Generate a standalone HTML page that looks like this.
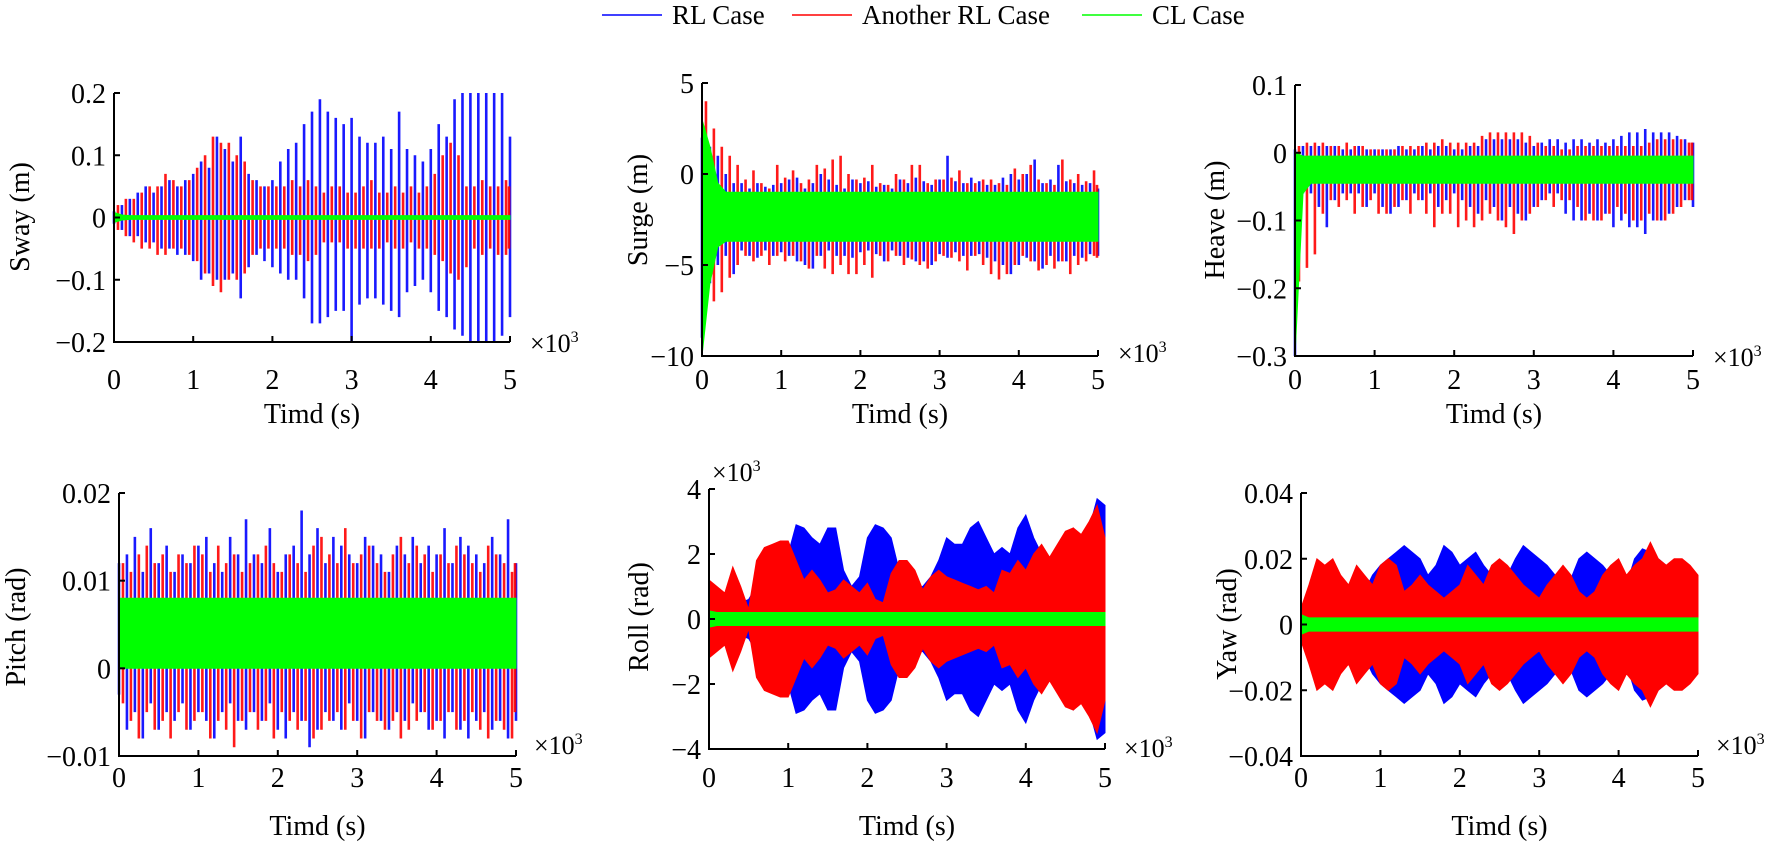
<!DOCTYPE html>
<html><head><meta charset="utf-8"><style>
html,body{margin:0;padding:0;background:#fff;}
svg, svg text{font-family:"Liberation Serif","Times New Roman",serif;}
svg{display:block;}
</style></head><body>
<svg id="fig" width="1772" height="845" viewBox="0 0 1772 845" xmlns="http://www.w3.org/2000/svg" font-family="Liberation Serif, serif">
<g>
 <line x1="602" y1="15" x2="662" y2="15" stroke="#0000ff" stroke-width="1.5"/>
 <text x="672" y="24" font-size="27" font-family="Liberation Serif, serif">RL Case</text>
 <line x1="792" y1="15" x2="852" y2="15" stroke="#ff0000" stroke-width="1.5"/>
 <text x="862" y="24" font-size="27" font-family="Liberation Serif, serif">Another RL Case</text>
 <line x1="1082" y1="15" x2="1142" y2="15" stroke="#00ff00" stroke-width="1.5"/>
 <text x="1152" y="24" font-size="27" font-family="Liberation Serif, serif">CL Case</text>
</g>
</svg>
<script>
const TIMES=[0,100,200,300,400,500,600,700,800,900,1000,1100,1200,1300,1400,1500,1600,1700,1800,1900,2000,2100,2200,2300,2400,2500,2600,2700,2800,2900,3000,3100,3200,3300,3400,3500,3600,3700,3800,3900,4000,4100,4200,4300,4400,4500,4600,4700,4800,4900,5000];
const X_TICKS=[0,1,2,3,4,5];

const swayBlueUp=[0.01,0.02,0.03,0.04,0.05,0.04,0.05,0.06,0.05,0.06,0.07,0.09,0.08,0.13,0.11,0.09,0.13,0.07,0.06,0.05,0.06,0.09,0.11,0.12,0.15,0.17,0.19,0.17,0.16,0.15,0.16,0.13,0.12,0.12,0.13,0.11,0.17,0.11,0.1,0.09,0.11,0.15,0.13,0.19,0.2,0.2,0.2,0.2,0.2,0.2,0.13];
const swayBlueLo=[-0.01,-0.02,-0.03,-0.03,-0.04,-0.04,-0.05,-0.05,-0.06,-0.06,-0.07,-0.1,-0.09,-0.1,-0.1,-0.09,-0.13,-0.08,-0.06,-0.07,-0.08,-0.09,-0.1,-0.1,-0.13,-0.17,-0.17,-0.16,-0.15,-0.15,-0.2,-0.14,-0.13,-0.13,-0.14,-0.15,-0.16,-0.12,-0.11,-0.1,-0.12,-0.15,-0.16,-0.18,-0.19,-0.2,-0.2,-0.2,-0.2,-0.19,-0.16];
const swayRedUp=[0.02,0.03,0.03,0.04,0.05,0.05,0.07,0.06,0.05,0.06,0.08,0.1,0.13,0.12,0.12,0.1,0.09,0.06,0.05,0.05,0.05,0.05,0.06,0.05,0.06,0.05,0.04,0.05,0.05,0.04,0.04,0.05,0.06,0.04,0.04,0.05,0.04,0.05,0.04,0.05,0.07,0.1,0.12,0.1,0.05,0.05,0.06,0.05,0.05,0.06,0.05];
const swayRedLo=[-0.02,-0.03,-0.04,-0.05,-0.05,-0.06,-0.06,-0.05,-0.05,-0.06,-0.07,-0.09,-0.11,-0.12,-0.1,-0.1,-0.09,-0.06,-0.05,-0.05,-0.05,-0.05,-0.06,-0.06,-0.07,-0.06,-0.04,-0.04,-0.04,-0.05,-0.05,-0.05,-0.05,-0.05,-0.04,-0.05,-0.05,-0.04,-0.05,-0.05,-0.06,-0.07,-0.09,-0.1,-0.08,-0.05,-0.06,-0.05,-0.06,-0.06,-0.05];
const swayGreenUp=[0.008,0.004,0.003,0.003,0.003,0.003,0.003,0.003,0.003,0.003,0.003,0.003,0.003,0.003,0.003,0.003,0.003,0.003,0.003,0.003,0.003,0.003,0.003,0.003,0.003,0.003,0.003,0.003,0.003,0.003,0.003,0.003,0.003,0.003,0.003,0.003,0.003,0.003,0.003,0.003,0.003,0.003,0.003,0.003,0.003,0.003,0.003,0.003,0.003,0.003,0.003];
const swayGreenLo=[-0.008,-0.004,-0.003,-0.003,-0.003,-0.003,-0.003,-0.003,-0.003,-0.003,-0.003,-0.003,-0.003,-0.003,-0.003,-0.003,-0.003,-0.003,-0.003,-0.003,-0.003,-0.003,-0.003,-0.003,-0.003,-0.003,-0.003,-0.003,-0.003,-0.003,-0.003,-0.003,-0.003,-0.003,-0.003,-0.003,-0.003,-0.003,-0.003,-0.003,-0.003,-0.003,-0.003,-0.003,-0.003,-0.003,-0.003,-0.003,-0.003,-0.003,-0.003];

const surgeBlueUp=[2,1.5,1,0,-0.5,-0.5,-0.8,-0.5,-0.7,-0.6,-0.5,-0.3,-0.2,-0.8,-0.5,0,-0.3,-0.6,-0.8,-0.3,-0.5,-0.4,-0.7,-0.6,-0.8,-0.3,-0.5,-0.2,-0.4,-0.6,-0.3,1,-0.4,-0.5,-0.2,-0.4,-0.6,-0.6,-0.2,0,-0.3,0,0.8,-0.5,-0.3,0.5,-0.4,-0.5,-0.6,-0.5,-0.8];
const surgeBlueLo=[-9,-6,-5,-4.5,-5.5,-4.2,-4.5,-4.6,-4.2,-4.5,-4.3,-4.5,-4.8,-5,-5.2,-4.5,-4.2,-4.5,-4.5,-4.6,-4.3,-4.2,-4.4,-4.8,-4.2,-4.5,-4.6,-4.8,-4.8,-5,-4.4,-4.6,-4.3,-4.5,-4.5,-4.4,-4.6,-4.8,-5,-5.5,-5,-4.6,-4.8,-5.2,-4.5,-4.8,-4.8,-4.5,-4.6,-4.4,-4.5];
const surgeRedUp=[4,2.5,1.5,1,0.5,-0.3,0.2,-0.5,-0.8,0.5,-0.2,0.2,-0.5,-0.3,0.5,0.3,0.8,1,0,-0.3,-0.2,0.5,-0.5,-0.6,0,-0.3,0.5,0.5,-0.5,-0.3,-0.3,-0.2,0.2,-0.5,-0.5,-0.3,-0.3,-0.5,-0.6,0.3,0,0.5,-0.3,-0.5,-0.6,0.8,-0.3,0,-0.4,0.2,-0.6];
const surgeRedLo=[-7.5,-7,-6.5,-5.7,-5,-4.5,-4.8,-4.5,-5,-4.5,-4.8,-4.5,-4.8,-5.2,-4.5,-5.2,-5.5,-5,-5.5,-5.5,-5,-5.7,-4.5,-4.8,-4.5,-5,-4.7,-5,-5.2,-4.8,-4.5,-4.6,-4.8,-5.3,-4.5,-5,-5.5,-5.8,-5.5,-5,-4.5,-4.8,-5.3,-5,-5.2,-4.8,-5.5,-5,-4.8,-4.5,-4.6];
const surgeGreenUp=[3,1.5,-0.5,-1,-1,-1,-1,-1,-1,-1,-1,-1,-1,-1,-1,-1,-1,-1,-1,-1,-1,-1,-1,-1,-1,-1,-1,-1,-1,-1,-1,-1,-1,-1,-1,-1,-1,-1,-1,-1,-1,-1,-1,-1,-1,-1,-1,-1,-1,-1,-1];
const surgeGreenLo=[-10,-6,-4,-3.7,-3.7,-3.7,-3.7,-3.7,-3.7,-3.7,-3.7,-3.7,-3.7,-3.7,-3.7,-3.7,-3.7,-3.7,-3.7,-3.7,-3.7,-3.7,-3.7,-3.7,-3.7,-3.7,-3.7,-3.7,-3.7,-3.7,-3.7,-3.7,-3.7,-3.7,-3.7,-3.7,-3.7,-3.7,-3.7,-3.7,-3.7,-3.7,-3.7,-3.7,-3.7,-3.7,-3.7,-3.7,-3.7,-3.7,-3.7];

const heaveBlueUp=[0.005,0.01,0.01,0.01,0.01,0.01,0.005,0.005,0.01,0.005,0.005,0.005,0.005,0.01,0.005,0.005,0.01,0.005,0.01,0.01,0.005,0.005,0.01,0.01,0.02,0.02,0.02,0.02,0.02,0.015,0.01,0.015,0.02,0.02,0.015,0.02,0.02,0.015,0.02,0.015,0.02,0.025,0.03,0.03,0.035,0.03,0.03,0.03,0.025,0.02,0.015];
const heaveBlueLo=[-0.3,-0.06,-0.06,-0.08,-0.11,-0.07,-0.06,-0.06,-0.06,-0.08,-0.06,-0.08,-0.09,-0.08,-0.07,-0.06,-0.07,-0.06,-0.08,-0.07,-0.06,-0.07,-0.08,-0.09,-0.07,-0.08,-0.1,-0.08,-0.09,-0.1,-0.08,-0.07,-0.06,-0.06,-0.09,-0.1,-0.1,-0.09,-0.1,-0.09,-0.11,-0.1,-0.11,-0.11,-0.12,-0.1,-0.1,-0.09,-0.08,-0.07,-0.08];
const heaveRedUp=[0.01,0.015,0.015,0.015,0.01,0.01,0.015,0.01,0.01,0.005,0.005,0.005,0.005,0.01,0.01,0.01,0.015,0.015,0.02,0.015,0.015,0.015,0.015,0.025,0.03,0.03,0.03,0.03,0.03,0.025,0.015,0.01,0.01,0.005,0.005,0.01,0.01,0.01,0.01,0.01,0.01,0.01,0.01,0.01,0.015,0.02,0.02,0.02,0.02,0.015,0.015];
const heaveRedLo=[-0.19,-0.17,-0.15,-0.09,-0.07,-0.08,-0.07,-0.09,-0.08,-0.07,-0.09,-0.09,-0.08,-0.07,-0.09,-0.07,-0.09,-0.11,-0.09,-0.09,-0.11,-0.1,-0.11,-0.1,-0.09,-0.1,-0.11,-0.12,-0.1,-0.09,-0.08,-0.07,-0.08,-0.07,-0.07,-0.08,-0.1,-0.1,-0.1,-0.09,-0.08,-0.09,-0.1,-0.1,-0.09,-0.1,-0.1,-0.09,-0.08,-0.07,-0.07];
const heaveGreenUp=[0,-0.005,-0.005,-0.005,-0.005,-0.005,-0.005,-0.005,-0.005,-0.005,-0.005,-0.005,-0.005,-0.005,-0.005,-0.005,-0.005,-0.005,-0.005,-0.005,-0.005,-0.005,-0.005,-0.005,-0.005,-0.005,-0.005,-0.005,-0.005,-0.005,-0.005,-0.005,-0.005,-0.005,-0.005,-0.005,-0.005,-0.005,-0.005,-0.005,-0.005,-0.005,-0.005,-0.005,-0.005,-0.005,-0.005,-0.005,-0.005,-0.005,-0.005];
const heaveGreenLo=[-0.3,-0.06,-0.045,-0.045,-0.045,-0.045,-0.045,-0.045,-0.045,-0.045,-0.045,-0.045,-0.045,-0.045,-0.045,-0.045,-0.045,-0.045,-0.045,-0.045,-0.045,-0.045,-0.045,-0.045,-0.045,-0.045,-0.045,-0.045,-0.045,-0.045,-0.045,-0.045,-0.045,-0.045,-0.045,-0.045,-0.045,-0.045,-0.045,-0.045,-0.045,-0.045,-0.045,-0.045,-0.045,-0.045,-0.045,-0.045,-0.045,-0.045,-0.045];

const pitchBlueUp=[0.012,0.013,0.015,0.011,0.016,0.012,0.014,0.011,0.013,0.012,0.014,0.015,0.012,0.011,0.015,0.013,0.017,0.013,0.012,0.016,0.011,0.013,0.014,0.018,0.013,0.016,0.012,0.015,0.014,0.013,0.012,0.015,0.014,0.013,0.011,0.014,0.013,0.015,0.012,0.014,0.013,0.016,0.012,0.015,0.014,0.013,0.012,0.015,0.013,0.017,0.012];
const pitchBlueLo=[-0.003,-0.007,-0.005,-0.008,-0.004,-0.007,-0.005,-0.006,-0.004,-0.007,-0.005,-0.006,-0.008,-0.005,-0.004,-0.006,-0.007,-0.005,-0.006,-0.004,-0.007,-0.008,-0.005,-0.006,-0.009,-0.007,-0.005,-0.006,-0.007,-0.004,-0.006,-0.008,-0.005,-0.006,-0.007,-0.005,-0.006,-0.004,-0.005,-0.007,-0.006,-0.008,-0.005,-0.007,-0.008,-0.006,-0.005,-0.007,-0.006,-0.008,-0.006];
const pitchRedUp=[0.012,0.011,0.013,0.014,0.012,0.013,0.011,0.013,0.012,0.014,0.013,0.011,0.014,0.012,0.013,0.011,0.012,0.013,0.014,0.012,0.011,0.013,0.012,0.011,0.014,0.015,0.013,0.012,0.016,0.012,0.013,0.014,0.012,0.011,0.013,0.015,0.012,0.014,0.013,0.011,0.013,0.012,0.014,0.013,0.012,0.011,0.014,0.013,0.012,0.011,0.012];
const pitchRedLo=[-0.004,-0.006,-0.008,-0.005,-0.007,-0.006,-0.008,-0.005,-0.007,-0.006,-0.005,-0.008,-0.006,-0.007,-0.009,-0.006,-0.005,-0.007,-0.006,-0.008,-0.005,-0.006,-0.007,-0.006,-0.008,-0.007,-0.006,-0.005,-0.007,-0.006,-0.008,-0.005,-0.006,-0.007,-0.006,-0.008,-0.007,-0.006,-0.005,-0.007,-0.006,-0.005,-0.007,-0.006,-0.005,-0.007,-0.008,-0.006,-0.007,-0.008,-0.005];
const pitchGreenUp=[0.008,0.008,0.008,0.008,0.008,0.008,0.008,0.008,0.008,0.008,0.008,0.008,0.008,0.008,0.008,0.008,0.008,0.008,0.008,0.008,0.008,0.008,0.008,0.008,0.008,0.008,0.008,0.008,0.008,0.008,0.008,0.008,0.008,0.008,0.008,0.008,0.008,0.008,0.008,0.008,0.008,0.008,0.008,0.008,0.008,0.008,0.008,0.008,0.008,0.008,0.008];
const pitchGreenLo=[0,0,0,0,0,0,0,0,0,0,0,0,0,0,0,0,0,0,0,0,0,0,0,0,0,0,0,0,0,0,0,0,0,0,0,0,0,0,0,0,0,0,0,0,0,0,0,0,0,0,0];

const rollBlueAmp=[0.5,0.8,0.7,0.6,0.5,0.6,1,1.2,1.5,1.8,2,2.9,2.8,2.5,2.3,2.8,2.8,1.5,1,1.3,2.5,2.9,2.8,2.5,1.5,1.2,1,1,1.3,1.8,2.5,2.3,2.3,2.8,3,2.5,2,2.2,2,2.8,3.2,2.5,2,1.8,2,2.5,2.8,2.5,2.8,3.7,3.5];
const rollRedAmp=[1.2,1,0.8,1.6,1,0.3,1.8,2.2,2.3,2.4,2.4,1.8,1.2,1.5,1.2,0.8,0.9,1.2,1,0.8,1.1,0.6,0.5,1.4,1.8,1.8,1.5,0.9,1.3,1.5,1.3,1.2,1.1,1,0.9,1,0.8,1.5,1.4,1.8,1.5,2,2.3,1.9,2.3,2.7,2.8,2.6,3,3.5,2.5];
const rollGreenAmp=[0.25,0.2,0.2,0.2,0.2,0.2,0.2,0.2,0.2,0.2,0.2,0.2,0.2,0.2,0.2,0.2,0.2,0.2,0.2,0.2,0.2,0.2,0.2,0.2,0.2,0.2,0.2,0.2,0.2,0.2,0.2,0.2,0.2,0.2,0.2,0.2,0.2,0.2,0.2,0.2,0.2,0.2,0.2,0.2,0.2,0.2,0.2,0.2,0.2,0.2,0.2];

const yawBlueAmp=[0.003,0.005,0.006,0.008,0.008,0.01,0.012,0.012,0.01,0.015,0.018,0.02,0.022,0.024,0.022,0.02,0.015,0.018,0.024,0.022,0.018,0.02,0.022,0.018,0.015,0.01,0.015,0.02,0.024,0.022,0.02,0.018,0.015,0.012,0.014,0.02,0.022,0.02,0.018,0.015,0.01,0.012,0.02,0.023,0.022,0.02,0.018,0.015,0.014,0.012,0.01];
const yawRedAmp=[0.005,0.012,0.02,0.018,0.02,0.015,0.012,0.018,0.015,0.012,0.018,0.02,0.018,0.01,0.012,0.015,0.012,0.01,0.008,0.01,0.012,0.018,0.015,0.012,0.018,0.02,0.018,0.015,0.012,0.01,0.008,0.012,0.015,0.018,0.015,0.01,0.008,0.01,0.015,0.018,0.02,0.015,0.018,0.02,0.025,0.02,0.018,0.02,0.02,0.018,0.015];
const yawGreenAmp=[0.003,0.002,0.002,0.002,0.002,0.002,0.002,0.002,0.002,0.002,0.002,0.002,0.002,0.002,0.002,0.002,0.002,0.002,0.002,0.002,0.002,0.002,0.002,0.002,0.002,0.002,0.002,0.002,0.002,0.002,0.002,0.002,0.002,0.002,0.002,0.002,0.002,0.002,0.002,0.002,0.002,0.002,0.002,0.002,0.002,0.002,0.002,0.002,0.002,0.002,0.002];

const swayTicks=[0.2,0.1,0,-0.1,-0.2];
const surgeTicks=[5,0,-5,-10];
const heaveTicks=[0.1,0,-0.1,-0.2,-0.3];
const pitchTicks=[0.02,0.01,0,-0.01];
const rollTicks=[4,2,0,-2,-4];
const yawTicks=[0.04,0.02,0,-0.02,-0.04];

const NS="http://www.w3.org/2000/svg";
const FONT="Liberation Serif, serif";
const svg=document.getElementById('fig');
function mk(tag,attrs,parent){const e=document.createElementNS(NS,tag);for(const k in attrs)e.setAttribute(k,attrs[k]);if(tag==='text')e.setAttribute('font-family',FONT);(parent||svg).appendChild(e);return e;}
function fmt(v){return v<0?'\u2212'+String(-v):String(v);}
const neg=a=>a.map(v=>-v);

const panels=[
 {key:'sway',title:'Sway (m)',x0:114,x1:510,yT:93,yB:342,ymin:-0.2,ymax:0.2,ticks:swayTicks,lab:[19,217],xl:379,xt:413,mode:'spike',blue:[swayBlueUp,swayBlueLo],red:[swayRedUp,swayRedLo],green:[swayGreenUp,swayGreenLo],exp:[[530,352]]},
 {key:'surge',title:'Surge (m)',x0:702,x1:1098,yT:83,yB:356,ymin:-10,ymax:5,ticks:surgeTicks,lab:[637,210],xl:379,xt:413,mode:'spike',blue:[surgeBlueUp,surgeBlueLo],red:[surgeRedUp,surgeRedLo],green:[surgeGreenUp,surgeGreenLo],exp:[[1118,362]]},
 {key:'heave',title:'Heave (m)',x0:1295,x1:1693,yT:85,yB:356,ymin:-0.3,ymax:0.1,ticks:heaveTicks,lab:[1214,220],xl:379,xt:413,mode:'spike',blue:[heaveBlueUp,heaveBlueLo],red:[heaveRedUp,heaveRedLo],green:[heaveGreenUp,heaveGreenLo],exp:[[1713,366]]},
 {key:'pitch',title:'Pitch (rad)',x0:119,x1:516,yT:493,yB:756,ymin:-0.01,ymax:0.02,ticks:pitchTicks,lab:[15,627],xl:777,xt:825,mode:'spike',blue:[pitchBlueUp,pitchBlueLo],red:[pitchRedUp,pitchRedLo],green:[pitchGreenUp,pitchGreenLo],exp:[[534,754]]},
 {key:'roll',title:'Roll (rad)',x0:709,x1:1105,yT:489,yB:749,ymin:-4,ymax:4,ticks:rollTicks,lab:[638,617],xl:777,xt:825,mode:'band',blue:[rollBlueAmp,neg(rollBlueAmp)],red:[rollRedAmp,neg(rollRedAmp)],green:[rollGreenAmp,neg(rollGreenAmp)],exp:[[712,481],[1124,757]]},
 {key:'yaw',title:'Yaw (rad)',x0:1301,x1:1698,yT:493,yB:756,ymin:-0.04,ymax:0.04,ticks:yawTicks,lab:[1226,624],xl:777,xt:825,mode:'band',blue:[yawBlueAmp,neg(yawBlueAmp)],red:[yawRedAmp,neg(yawRedAmp)],green:[yawGreenAmp,neg(yawGreenAmp)],exp:[[1716,754]]}
];

panels.forEach(p=>{
 const g=mk('g',{});
 
 
 const xs=t=>p.x0+(t/5000)*(p.x1-p.x0);
 const ys=v=>p.yB-(v-p.ymin)/(p.ymax-p.ymin)*(p.yB-p.yT);
 const step=(p.x1-p.x0)/(TIMES.length-1);
 const draw=(name,color,arr,off,isGreen)=>{
  const sg=mk('g',{},g);
  
  
  if(p.mode==='spike' && !isGreen){
   arr[0].forEach((v,i)=>{
    let x=xs(TIMES[i])+off*step; if(x>p.x1)x=p.x1-1;
    const ln=mk('line',{x1:x,x2:x,y1:ys(v),y2:ys(arr[1][i]),stroke:color,'stroke-width':2.6,'stroke-opacity':0.9},sg);
    
    
   });
  } else {
   let d='';
   arr[0].forEach((v,i)=>{d+=(i?'L':'M')+xs(TIMES[i]).toFixed(1)+' '+ys(v).toFixed(1);});
   for(let i=arr[1].length-1;i>=0;i--){d+='L'+xs(TIMES[i]).toFixed(1)+' '+ys(arr[1][i]).toFixed(1);}
   d+='Z';
   const pa=mk('path',{d:d,fill:color,stroke:color,'stroke-width':1},sg);
   
   
  }
 };
 draw('rl-case','#0000ff',p.blue,0,false);
 draw('another-rl-case','#ff0000',p.red,0.5,false);
 draw('cl-case','#00ff00',p.green,0,true);
 const ax=mk('path',{d:`M${p.x0} ${p.yT}L${p.x0} ${p.yB}L${p.x1} ${p.yB}`,fill:'none',stroke:'#000','stroke-width':2},g);
 
 
 p.ticks.forEach(v=>{
  const y=ys(v);
  mk('line',{x1:p.x0,x2:p.x0+6,y1:y,y2:y,stroke:'#000','stroke-width':2},g);
  const t=mk('text',{x:p.x0-8,y:y+10,'font-size':28,'text-anchor':'end'},g);
  t.textContent=fmt(v);
  
  
 });
 X_TICKS.forEach(v=>{
  const x=xs(v*1000);
  mk('line',{x1:x,x2:x,y1:p.yB,y2:p.yB-6,stroke:'#000','stroke-width':2},g);
  const t=mk('text',{x:x,y:p.xl+10,'font-size':28,'text-anchor':'middle'},g);
  t.textContent=String(v);
  
  
 });
 const xt=mk('text',{x:(p.x0+p.x1)/2,y:p.xt+10,'font-size':28,'text-anchor':'middle'},g);
 xt.textContent='Timd (s)';
 
 
 const yt=mk('text',{x:0,y:0,'font-size':28,'text-anchor':'middle',transform:`translate(${p.lab[0]+10},${p.lab[1]}) rotate(-90)`},g);
 yt.textContent=p.title;
 
 
 p.exp.forEach(e=>{
  const t=mk('text',{x:e[0],y:e[1],'font-size':26},g);
  t.textContent='\u00d710';
  const s=mk('tspan',{'font-size':16,dy:-10},t);
  s.textContent='3';
  
  
 });
});
</script>
</body></html>
